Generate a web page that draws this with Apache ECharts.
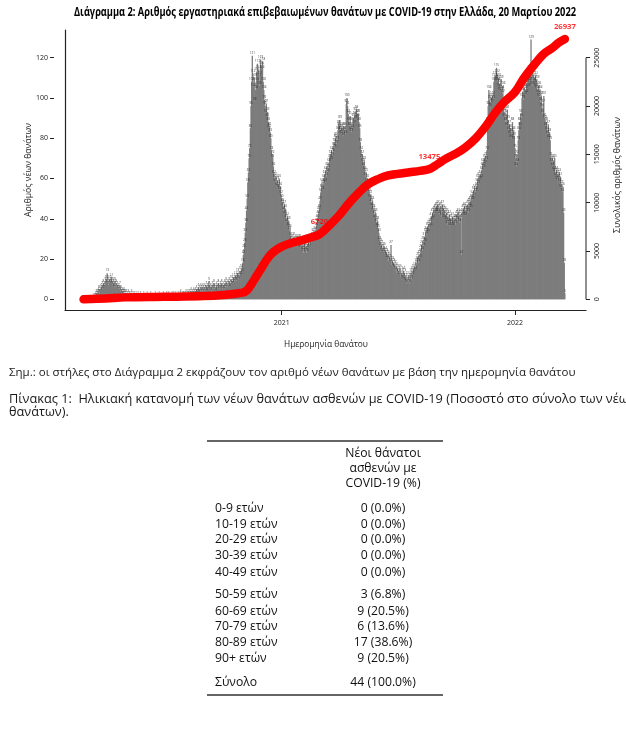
<!DOCTYPE html>
<html><head><meta charset="utf-8">
<script src="https://cdn.jsdelivr.net/npm/echarts@6/dist/echarts.min.js"></script>
<style>html,body{margin:0;padding:0;background:#fff}#c{width:626px;height:740px}</style>
</head><body><div id="c"></div>
<script>
// ---------- DATA ----------
const firstDay = '2020-02-26';
const feb2020 = [0,0,0,0];
const mar2020 = [0,0,0,0,0,0,0,0,0,0,0,1,0,1,1,2,3,2,3,4,5,3,5,4,6,7,5,8,6,7,9];
const apr2020 = [8,10,13,9,7,8,10,9,8,11,7,9,8,6,9,7,8,6,7,5,6,5,7,4,5,3,4,3,4,3];
const may2020 = [3,2,3,2,1,3,2,2,1,2,3,1,2,1,2,1,0,2,1,1,2,0,1,1,2,1,0,1,1,2,1];
const jun2020 = [1,0,1,2,1,0,1,1,0,2,1,1,0,1,0,1,2,0,1,1,0,1,2,1,0,1,1,0,1,2];
const jul2020 = [1,0,1,1,2,0,1,2,1,0,1,1,2,1,0,2,1,1,2,1,0,1,2,1,1,2,3,1,2,1,2];
const aug2020 = [2,1,2,3,1,2,3,2,1,3,2,4,2,3,2,4,3,2,4,3,5,3,4,6,3,5,4,6,5,4,6];
const sep2020 = [5,4,6,5,7,4,6,5,9,7,5,6,4,7,5,6,8,5,6,4,7,6,5,8,6,5,7,6,8,5];
const oct2020 = [6,7,5,8,6,9,7,6,8,7,9,6,8,10,7,9,8,11,9,10,12,9,11,13,10,12,11,14,12,15,13];
const nov2020 = [18,22,25,28,33,38,44,50,58,63,70,75,85,96,108,121,112,105,110,98,104,108,113,117,110,114,106,111,119,116];
const dec2020 = [114,118,108,104,99,96,92,97,90,93,88,85,86,83,80,74,70,72,66,62,60,58,61,56,59,55,57,60,54,56,52];
const jan2021 = [50,48,46,44,47,42,45,40,38,41,36,39,34,35,31,29,30,27,28,31,26,29,27,30,28,26,29,27,30,25,28];
const feb2021 = [26,24,27,23,25,28,24,26,23,27,25,28,26,27,29,30,28,31,33,30,32,34,31,36,38,40,42,44];
const mar2021 = [45,49,53,55,58,54,57,60,62,58,64,61,66,63,65,68,70,72,69,74,71,73,76,78,75,80,81,77,79,84,87];
const apr2021 = [86,89,84,82,85,83,86,81,84,86,82,97,100,96,92,88,86,91,84,83,88,85,90,87,91,93,89,94,92,90];
const may2021 = [92,88,85,78,74,70,72,68,66,69,64,61,63,58,60,56,57,53,50,52,48,46,49,44,45,42,40,43,38,36,39];
const jun2021 = [35,33,29,28,26,27,24,25,23,26,22,24,21,23,20,22,19,21,20,18,27,17,19,16,18,15,17,14,16,13];
const jul2021 = [15,13,14,12,15,11,13,10,12,14,11,13,9,12,8,11,10,9,12,8,11,13,10,14,12,15,13,16,14,18,17];
const aug2021 = [19,21,18,22,20,23,25,27,24,29,26,31,28,33,34,32,36,33,37,35,38,36,41,39,43,40,44,42,45,43,46];
const sep2021 = [44,47,43,45,42,46,44,41,47,43,45,40,44,42,39,43,37,41,38,42,36,40,38,37,41,36,39,38,40,37];
const oct2021 = [40,42,39,43,41,38,42,40,22,43,41,45,42,46,44,41,45,44,47,43,48,46,49,45,50,52,49,54,51,55,53];
const nov2021 = [54,56,58,60,57,61,59,62,60,64,66,68,65,70,67,71,69,74,88,96,104,99,95,98,100,97,101,99,108,110];
const dec2021 = [111,109,115,112,108,110,105,107,103,109,104,102,106,95,90,93,88,92,86,94,89,84,87,82,85,80,83,88,79,84,81];
const jan2022 = [75,70,66,72,68,79,84,88,86,92,90,100,103,99,105,101,104,102,107,110,105,112,108,114,111,129,109,106,112,108,110];
const feb2022 = [107,111,105,109,104,102,106,100,104,98,101,95,92,97,101,90,89,86,88,84,82,87,80,83,79,71,68,70];
const mar2022 = [66,69,64,70,63,61,64,59,62,60,63,58,61,55,57,53,56,43,18,3];

const cumDates = ['2020-02-26','2020-04-01','2020-05-01','2020-07-01','2020-09-01','2020-10-01','2020-11-01','2020-11-08','2020-11-15','2020-11-22','2020-12-01','2020-12-08','2020-12-15','2020-12-22',
 '2021-01-01','2021-01-15','2021-02-01','2021-02-15','2021-03-01','2021-03-15','2021-04-01','2021-04-15','2021-05-01','2021-05-15','2021-06-01','2021-06-15','2021-07-01','2021-07-20','2021-08-05','2021-08-20','2021-09-01','2021-09-15','2021-10-01','2021-10-15','2021-11-01','2021-11-15','2021-12-01','2021-12-15',
 '2022-01-01','2022-01-15','2022-02-01','2022-02-15','2022-03-01','2022-03-10','2022-03-20'];
const cumValues = [0,90,200,260,330,450,700,950,1600,2350,3300,4050,4650,5050,
 5450,5800,6100,6400,6720,7550,8700,9850,11000,11850,12450,12800,12980,13150,13290,13475,13950,14550,15100,15700,16700,17800,19300,20400,
 21450,22900,24350,25400,26050,26550,26937];

const labelDates = ['2021-03-01','2021-08-20','2022-03-20'];
const labelValues = [6720, 13475, 26937];

const leftTicks = [0,20,40,60,80,100,120];
const rightTicks = [0,5000,10000,15000,20000,25000];
const yearTicks = ['2021-01-01','2022-01-01'];

const titleText = 'Διάγραμμα 2: Αριθμός εργαστηριακά επιβεβαιωμένων θανάτων με COVID-19 στην Ελλάδα, 20 Μαρτίου 2022';
const yLeftName = 'Αριθμός νέων θανάτων';
const yRightName = 'Συνολικός αριθμός θανάτων';
const xName = 'Ημερομηνία θανάτου';
const noteText = 'Σημ.: οι στήλες στο Διάγραμμα 2 εκφράζουν τον αριθμό νέων θανάτων με βάση την ημερομηνία θανάτου';
const tableCaption1 = 'Πίνακας 1:  Ηλικιακή κατανομή των νέων θανάτων ασθενών με COVID-19 (Ποσοστό στο σύνολο των νέων';
const tableCaption2 = 'θανάτων).';
const tableHeader = ['Νέοι θάνατοι', 'ασθενών με', 'COVID-19 (%)'];
const ageGroups = ['0-9 ετών','10-19 ετών','20-29 ετών','30-39 ετών','40-49 ετών','50-59 ετών','60-69 ετών','70-79 ετών','80-89 ετών','90+ ετών','Σύνολο'];
const ageCounts = [0,0,0,0,0,3,9,6,17,9,44];
const agePercents = ['0.0','0.0','0.0','0.0','0.0','6.8','20.5','13.6','38.6','20.5','100.0'];

// ---------- BUILD ----------
function ts(s){ const p = s.split('-').map(Number); return Date.UTC(p[0], p[1]-1, p[2]); }
const DAY = 86400000;
const months = [feb2020,mar2020,apr2020,may2020,jun2020,jul2020,aug2020,sep2020,oct2020,nov2020,dec2020,
  jan2021,feb2021,mar2021,apr2021,may2021,jun2021,jul2021,aug2021,sep2021,oct2021,nov2021,dec2021,jan2022,feb2022,mar2022];
const daily = [];
let k = 0; const t0 = ts(firstDay);
months.forEach(a => a.forEach(v => { daily.push([t0 + k*DAY, v]); k++; }));
const cumData = cumDates.map((d,i) => [ts(d), cumValues[i]]);
const lblData = labelDates.map((d,i) => [ts(d), labelValues[i]]);

const FONT = "'Open Sans', 'Noto Sans', sans-serif";
const mctx = document.createElement('canvas').getContext('2d');
function textW(text, weight, size){ mctx.font = weight + ' ' + size + 'px ' + FONT; return mctx.measureText(text).width; }
function fit(text, weight, w){ return 100*w/textW(text, weight, 100); }

const TXT = '#1a1a1a';
const fsTitle = 11.5;
const titleScaleX = 502 / textW(titleText, 'bold', fsTitle);
const fsYL = fit(yLeftName, 'normal', 94);
const fsYR = fit(yRightName, 'normal', 116);
const fsX = fit(xName, 'normal', 84);
const fsNote = fit(noteText, 'normal', 567);
const fsCap = fit('Πίνακας 1:  Ηλικιακή κατανομή των νέων θανάτων ασθενών με COVID-19 (Ποσοστό στο σύνολο των νέω', 'normal', 620);
const fsTab = fit('COVID-19 (%)', 'normal', 75);
const fsTick = fit('2021', 'normal', 16);
const fsRed = fit('26937', 'bold', 22);

const gridL = 65, gridR = 586, gridT = 30, gridB = 310;

const graphics = [];
function txt(id, text, x, y, size, opts){
  const el = {id, type:'text', x, y, silent:true,
    style:{text, fontSize:size, fontFamily:FONT, fill:TXT, textAlign:'center', textVerticalAlign:'middle', fontWeight:'normal'}};
  if (opts && opts.rotation) el.rotation = opts.rotation;
  if (opts && opts.scaleX) el.scaleX = opts.scaleX;
  if (opts && opts.styleExtra) Object.assign(el.style, opts.styleExtra);
  graphics.push(el);
}
txt('title', titleText, 325, 13, fsTitle, {scaleX:titleScaleX, styleExtra:{fontWeight:'bold', fill:'#000'}});
txt('yl', yLeftName, 29, 170, fsYL, {rotation:Math.PI/2});
txt('yr', yRightName, 618, 175, fsYR, {rotation:Math.PI/2});
txt('xn', xName, 326, 345, fsX);
txt('note', noteText, 9, 373, fsNote, {styleExtra:{textAlign:'left'}});
txt('cap1', tableCaption1, 9, 399, fsCap, {styleExtra:{textAlign:'left'}});
txt('cap2', tableCaption2, 9, 412, fsCap, {styleExtra:{textAlign:'left'}});
graphics.push({id:'tl1', type:'line', silent:true, shape:{x1:207,y1:441,x2:443,y2:441}, style:{stroke:'#333', lineWidth:1.4}});
graphics.push({id:'tl2', type:'line', silent:true, shape:{x1:207,y1:695,x2:443,y2:695}, style:{stroke:'#333', lineWidth:1.4}});
const headY = [454, 469, 484];
tableHeader.forEach((h,i) => txt('th'+i, h, 383, headY[i], fsTab, {styleExtra:{fill:'#111'}}));
const rowY = [509,525,540,556,573,595,612,627,643,659,683];
ageGroups.forEach((g,i) => {
  txt('rl'+i, g, 215, rowY[i], fsTab, {styleExtra:{textAlign:'left', fill:'#111'}});
  txt('rv'+i, ageCounts[i] + ' (' + agePercents[i] + '%)', 383, rowY[i], fsTab, {styleExtra:{fill:'#111'}});
});

const yMinL = -5.31, yMaxL = 133.76, ratio = 25000/120;

const option = {
  animation:false,
  backgroundColor:'#fff',
  grid:{left:gridL, right:626-gridR, top:gridT, bottom:740-gridB, containLabel:false},
  xAxis:{type:'value', min:ts('2020-01-28'), max:ts('2022-04-22'),
    axisLine:{show:true, onZero:false, lineStyle:{color:'#222', width:1.2}},
    axisTick:{show:true, length:5, customValues:yearTicks.map(ts), lineStyle:{color:'#222'}},
    axisLabel:{customValues:yearTicks.map(ts), formatter:v => String(new Date(v).getUTCFullYear()), fontSize:fsTick, fontFamily:FONT, color:TXT, margin:10},
    splitLine:{show:false}},
  yAxis:[
    {type:'value', position:'left', offset:11, min:yMinL, max:yMaxL,
      axisLine:{show:false, onZero:false}, axisTick:{show:true, length:4, customValues:leftTicks, lineStyle:{color:'#222'}},
      axisLabel:{customValues:leftTicks, fontSize:fsTick, fontFamily:FONT, color:TXT, margin:6}, splitLine:{show:false}},
    {type:'value', position:'right', offset:0, min:yMinL*ratio, max:yMaxL*ratio,
      axisLine:{show:false, onZero:false}, axisTick:{show:true, length:4, customValues:rightTicks, lineStyle:{color:'#222'}},
      axisLabel:{customValues:rightTicks, rotate:90, formatter:v => String(v), fontSize:fsTick, fontFamily:FONT, color:TXT, margin:8}, splitLine:{show:false}},
    {type:'value', position:'left', offset:0, min:yMinL, max:yMaxL,
      axisLine:{show:true, onZero:false, lineStyle:{color:'#222', width:1.2}}, axisTick:{show:false}, axisLabel:{show:false}, splitLine:{show:false}}
  ],
  series:[
    {type:'bar', data:daily, yAxisIndex:0, barWidth:1.3, itemStyle:{color:'#7c7c7c'}, z:2,
      label:{show:true, position:'top', distance:1, fontSize:3, color:'#333', fontFamily:FONT, formatter:p => p.value[1]}},
    {type:'line', data:cumData, yAxisIndex:1, smooth:0.35, symbol:'none', z:3,
      lineStyle:{color:'#ff0000', width:8.5, cap:'round', join:'round'}},
    {type:'scatter', data:lblData, yAxisIndex:1, symbolSize:1, itemStyle:{color:'rgba(0,0,0,0)'}, z:4,
      label:{show:true, position:'top', distance:8, color:'#ff0000', fontWeight:'bold', fontSize:fsRed, fontFamily:FONT, formatter:p => p.value[1]}}
  ],
  graphic:{elements:graphics}
};
const chart = echarts.init(document.getElementById('c'));
chart.setOption(option);
const ry0 = chart.convertToPixel({yAxisIndex:1}, 0);
const ry1 = chart.convertToPixel({yAxisIndex:1}, 25000);
graphics.push({id:'raxis', type:'line', silent:true, shape:{x1:gridR, y1:ry0, x2:gridR, y2:ry1}, style:{stroke:'#222', lineWidth:1}});
chart.setOption({graphic:{elements:graphics}});
</script></body></html>
